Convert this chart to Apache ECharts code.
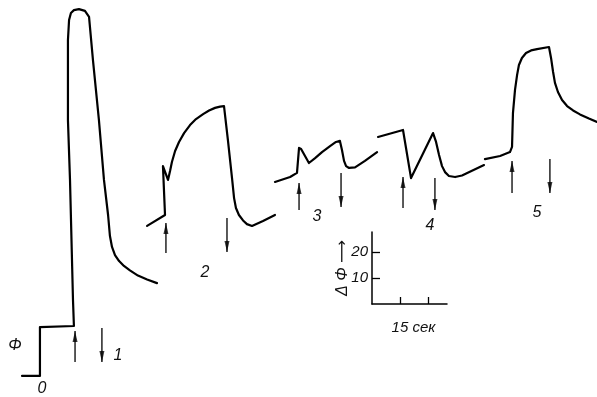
<!DOCTYPE html>
<html>
<head>
<meta charset="utf-8">
<script src="https://cdn.jsdelivr.net/npm/echarts@6/dist/echarts.min.js"></script>
<style>
html,body{margin:0;padding:0;background:#fff;}
#chart{width:597px;height:397px;}
</style>
</head>
<body>
<div id="chart"></div>
<script>
// time in seconds, signal in ΔΦ units
var trace1 = [[11.8,8.1],[21.4,8.1],[21.4,26.9],[39.6,27.3],[39.1,37.3],[37.5,83.5],[36.4,106.5],[36.4,137.3],[37.0,145.0],[38.0,147.7],[39.6,148.8],[42.3,149.2],[45.5,148.5],[47.7,146.2],[49.8,129.6],[53.0,106.5],[55.7,83.5],[57.9,70.0],[58.9,61.9],[60.0,57.7],[61.6,54.6],[63.8,52.3],[66.4,50.4],[69.6,48.7],[73.9,46.7],[78.8,45.2],[84.1,43.8]];
var trace2 = [[78.8,65.8],[88.4,70.0],[87.3,88.8],[90.0,83.5],[91.1,86.9],[92.1,90.4],[93.8,94.6],[95.9,98.1],[98.6,101.5],[101.8,104.6],[105.0,106.9],[108.8,108.8],[112.0,110.2],[115.2,111.2],[117.9,111.7],[120.0,111.9],[122.1,98.8],[124.3,84.2],[125.4,76.5],[126.4,72.7],[128.0,70.0],[130.2,67.9],[132.3,66.5],[135.0,65.8],[140.9,67.7],[147.3,70.0]];
var trace3 = [[147.3,82.7],[155.4,84.6],[159.1,86.2],[160.2,95.8],[161.3,95.4],[163.4,92.7],[165.5,90.0],[168.8,91.9],[172.5,94.2],[176.8,96.5],[180.0,98.1],[182.1,98.5],[183.2,95.0],[184.3,90.8],[185.4,88.8],[187.0,88.1],[190.2,88.3],[195.5,90.8],[202.0,94.2]];
var trace4 = [[202.5,100.0],[215.9,102.7],[220.2,84.2],[232.0,101.5],[233.6,98.1],[235.2,93.1],[236.8,88.8],[238.4,86.5],[240.5,85.0],[243.8,84.6],[247.5,85.2],[259.3,89.2]];
var trace5 = [[259.8,91.5],[267.9,92.7],[273.2,94.2],[274.3,96.2],[274.8,109.2],[275.9,118.1],[277.0,123.8],[278.0,127.7],[279.6,130.4],[281.8,132.3],[284.5,133.3],[287.7,133.8],[294.1,134.6],[295.2,130.4],[296.3,125.0],[297.3,120.8],[298.9,117.3],[301.1,114.2],[303.8,111.9],[307.0,110.2],[310.7,108.7],[315.5,107.1],[319.8,105.8]];

// stimulus arrows: x position, tail level, head level (up = on, down = off)
var arrowX    = [40.2, 54.6, 88.9, 121.6, 160.2, 182.7, 215.9, 233.0, 274.3, 294.6];
var arrowFrom = [13.5, 26.5, 55.4, 68.8, 71.9, 86.2, 72.7, 84.2, 78.5, 91.5];
var arrowTo   = [25.4, 13.5, 66.9, 55.8, 82.3, 73.1, 84.6, 71.9, 90.8, 78.5];

// scale bar
var scaleXTicks = [15, 30];
var scaleYTicks = ['10', '20'];
var scaleXName = '15 сек';
var scaleYName = 'Δ Φ ⟶';
var curveLabels = ['Φ', '0', '1', '2', '3', '4', '5'];

var PX_PER_S = 28 / 15, PX_PER_U = 2.6;
var W = 597, H = 397;
var FONT = '"Liberation Sans Narrow","Liberation Sans","DejaVu Sans",sans-serif';

var series = [];
[trace1, trace2, trace3, trace4, trace5].forEach(function (t) {
  series.push({type: 'line', data: t, symbol: 'none', smooth: false,
    lineStyle: {color: '#000', width: 2.2, join: 'round', cap: 'round'}, silent: true, animation: false});
});
var upHeads = [], downHeads = [];
arrowX.forEach(function (x, i) {
  series.push({type: 'line', data: [[x, arrowFrom[i]], [x, arrowTo[i]]], symbol: 'none',
    lineStyle: {color: '#000', width: 1.3}, silent: true, animation: false});
  if (arrowTo[i] > arrowFrom[i]) upHeads.push([x, arrowTo[i]]); else downHeads.push([x, arrowTo[i]]);
});
series.push({type: 'scatter', data: upHeads, symbol: 'path://M2,0L4,10L0,10Z', symbolSize: [5, 11],
  symbolOffset: [0, '50%'], itemStyle: {color: '#000'}, silent: true, animation: false});
series.push({type: 'scatter', data: downHeads, symbol: 'path://M0,0L4,0L2,10Z', symbolSize: [5, 11],
  symbolOffset: [0, '-50%'], itemStyle: {color: '#000'}, silent: true, animation: false});
// scale bar (empty series just to host the axes)
series.push({type: 'line', xAxisIndex: 1, yAxisIndex: 1, data: [], silent: true});

var labelPos = [[15,346],[42,389],[118,356],[205,273],[317,217],[430,226],[537,213]];
var graphics = curveLabels.map(function (t, i) {
  return {type: 'text', x: labelPos[i][0], y: labelPos[i][1],
    style: {text: t, fill: '#111', font: 'italic 16px ' + FONT, align: 'center', verticalAlign: 'middle'}};
});

var chart = echarts.init(document.getElementById('chart'), null, {renderer: 'canvas'});
chart.setOption({
  backgroundColor: '#fff',
  animation: false,
  grid: [
    {left: 0, top: 0, width: W, height: H, containLabel: false, outerBoundsMode: 'none'},
    {left: 372, top: 232, width: 75, height: 72, containLabel: false, outerBoundsMode: 'none'}
  ],
  xAxis: [
    {type: 'value', gridIndex: 0, min: 0, max: W / PX_PER_S, show: false},
    {type: 'value', gridIndex: 1, min: 0, max: 75 / PX_PER_S, interval: scaleXTicks[0],
      axisLine: {show: true, lineStyle: {color: '#000', width: 1.5}},
      axisTick: {show: true, inside: true, length: 7, lineStyle: {color: '#000', width: 1.3},
        customValues: scaleXTicks},
      axisLabel: {show: false}, splitLine: {show: false},
      name: scaleXName, nameLocation: 'middle', nameGap: 16,
      nameTextStyle: {color: '#111', fontFamily: FONT, fontStyle: 'italic', fontSize: 15, padding: [0, 0, 0, 8]}}
  ],
  yAxis: [
    {type: 'value', gridIndex: 0, min: 0, max: H / PX_PER_U, show: false},
    {type: 'value', gridIndex: 1, min: 0, max: 72 / PX_PER_U, interval: 10,
      axisLine: {show: true, lineStyle: {color: '#000', width: 1.5}},
      axisTick: {show: true, inside: true, length: 8, lineStyle: {color: '#000', width: 1.3},
        customValues: [10, 20]},
      axisLabel: {show: true, margin: 4, color: '#111', fontFamily: FONT, fontStyle: 'italic', fontSize: 15,
        customValues: [10, 20],
        formatter: function (v) { var k = scaleYTicks.indexOf(String(v)); return k >= 0 ? scaleYTicks[k] : ''; }},
      splitLine: {show: false},
      name: scaleYName, nameLocation: 'middle', nameGap: 21, nameRotate: 90, nameMoveOverlap: false,
      nameTextStyle: {color: '#111', fontFamily: FONT, fontStyle: 'italic', fontSize: 16}}
  ],
  series: series,
  graphic: graphics
});
</script>
</body>
</html>
